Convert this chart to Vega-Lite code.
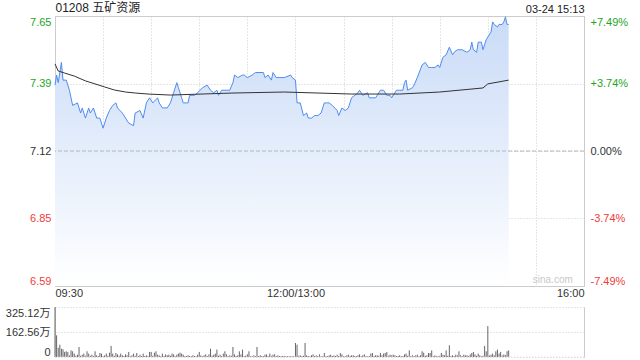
{
"$schema": "https://vega.github.io/schema/vega-lite/v6.json",
"padding": {"left": 5, "top": 0, "right": 5, "bottom": 0},
"autosize": {"type": "pad"},
"background": "white",
"config": {"font": "Liberation Sans, Noto Sans CJK SC, sans-serif", "axis": {"labelFont": "Liberation Sans, Noto Sans CJK SC, sans-serif", "labelFontSize": 11, "labelColor": "#333", "ticks": false, "domain": false, "labelOverlap": false}},
"datasets": {
"price": [{"m":0,"p":7.38},{"m":1,"p":7.42},{"m":2,"p":7.39},{"m":4,"p":7.47},{"m":5,"p":7.40},{"m":7,"p":7.40},{"m":9,"p":7.36},{"m":11,"p":7.30},{"m":14,"p":7.31},{"m":16,"p":7.27},{"m":17,"p":7.29},{"m":19,"p":7.25},{"m":21,"p":7.29},{"m":22,"p":7.27},{"m":24,"p":7.29},{"m":26,"p":7.25},{"m":28,"p":7.25},{"m":30,"p":7.21},{"m":32,"p":7.25},{"m":34,"p":7.28},{"m":36,"p":7.30},{"m":38,"p":7.31},{"m":39,"p":7.29},{"m":42,"p":7.27},{"m":44,"p":7.25},{"m":46,"p":7.23},{"m":49,"p":7.22},{"m":50,"p":7.27},{"m":53,"p":7.28},{"m":55,"p":7.25},{"m":57,"p":7.31},{"m":59,"p":7.33},{"m":61,"p":7.31},{"m":64,"p":7.33},{"m":65,"p":7.31},{"m":67,"p":7.29},{"m":70,"p":7.29},{"m":72,"p":7.31},{"m":74,"p":7.35},{"m":76,"p":7.39},{"m":77,"p":7.37},{"m":79,"p":7.33},{"m":80,"p":7.31},{"m":82,"p":7.31},{"m":83,"p":7.31},{"m":84,"p":7.34},{"m":87,"p":7.34},{"m":89,"p":7.35},{"m":92,"p":7.37},{"m":95,"p":7.38},{"m":97,"p":7.36},{"m":99,"p":7.35},{"m":101,"p":7.36},{"m":102,"p":7.34},{"m":104,"p":7.36},{"m":106,"p":7.36},{"m":109,"p":7.36},{"m":111,"p":7.39},{"m":112,"p":7.42},{"m":114,"p":7.41},{"m":117,"p":7.42},{"m":118,"p":7.42},{"m":120,"p":7.41},{"m":123,"p":7.42},{"m":125,"p":7.43},{"m":130,"p":7.43},{"m":131,"p":7.41},{"m":133,"p":7.42},{"m":135,"p":7.40},{"m":136,"p":7.43},{"m":138,"p":7.41},{"m":143,"p":7.41},{"m":147,"p":7.42},{"m":148,"p":7.41},{"m":150,"p":7.40},{"m":151,"p":7.31},{"m":153,"p":7.31},{"m":155,"p":7.26},{"m":157,"p":7.27},{"m":158,"p":7.25},{"m":160,"p":7.25},{"m":162,"p":7.26},{"m":164,"p":7.26},{"m":166,"p":7.27},{"m":168,"p":7.31},{"m":170,"p":7.31},{"m":171,"p":7.31},{"m":173,"p":7.30},{"m":176,"p":7.28},{"m":177,"p":7.26},{"m":179,"p":7.29},{"m":181,"p":7.28},{"m":183,"p":7.29},{"m":185,"p":7.33},{"m":187,"p":7.34},{"m":189,"p":7.35},{"m":190,"p":7.36},{"m":192,"p":7.34},{"m":195,"p":7.35},{"m":196,"p":7.33},{"m":200,"p":7.33},{"m":201,"p":7.34},{"m":203,"p":7.36},{"m":205,"p":7.36},{"m":207,"p":7.34},{"m":209,"p":7.34},{"m":210,"p":7.33},{"m":213,"p":7.36},{"m":214,"p":7.36},{"m":215,"p":7.36},{"m":217,"p":7.36},{"m":218,"p":7.39},{"m":219,"p":7.40},{"m":220,"p":7.36},{"m":223,"p":7.37},{"m":224,"p":7.38},{"m":226,"p":7.41},{"m":229,"p":7.46},{"m":231,"p":7.47},{"m":233,"p":7.45},{"m":235,"p":7.45},{"m":237,"p":7.45},{"m":239,"p":7.46},{"m":240,"p":7.45},{"m":242,"p":7.49},{"m":244,"p":7.50},{"m":246,"p":7.53},{"m":248,"p":7.50},{"m":249,"p":7.51},{"m":251,"p":7.52},{"m":254,"p":7.52},{"m":257,"p":7.51},{"m":259,"p":7.52},{"m":260,"p":7.55},{"m":261,"p":7.52},{"m":263,"p":7.51},{"m":264,"p":7.55},{"m":266,"p":7.55},{"m":267,"p":7.52},{"m":269,"p":7.56},{"m":270,"p":7.57},{"m":272,"p":7.59},{"m":273,"p":7.63},{"m":274,"p":7.62},{"m":276,"p":7.61},{"m":277,"p":7.62},{"m":279,"p":7.62},{"m":280,"p":7.63},{"m":281,"p":7.65},{"m":282,"p":7.62},{"m":283,"p":7.62}],
"avg": [{"m":0,"a":7.464},{"m":2,"a":7.436},{"m":6,"a":7.428},{"m":12,"a":7.416},{"m":19,"a":7.397},{"m":25,"a":7.385},{"m":31,"a":7.373},{"m":37,"a":7.361},{"m":44,"a":7.353},{"m":50,"a":7.349},{"m":58,"a":7.345},{"m":72,"a":7.341},{"m":111,"a":7.349},{"m":143,"a":7.353},{"m":164,"a":7.349},{"m":185,"a":7.345},{"m":215,"a":7.345},{"m":240,"a":7.353},{"m":267,"a":7.369},{"m":270,"a":7.385},{"m":283,"a":7.400}],
"vol": [{"m":0,"v":325},{"m":1,"v":141},{"m":2,"v":60},{"m":3,"v":80},{"m":4,"v":54},{"m":5,"v":50},{"m":6,"v":33},{"m":7,"v":37},{"m":8,"v":33},{"m":9,"v":10},{"m":10,"v":43},{"m":11,"v":37},{"m":12,"v":22},{"m":13,"v":8},{"m":14,"v":15},{"m":15,"v":65},{"m":16,"v":8},{"m":17,"v":15},{"m":18,"v":22},{"m":19,"v":8},{"m":20,"v":37},{"m":21,"v":22},{"m":22,"v":8},{"m":23,"v":15},{"m":24,"v":6},{"m":25,"v":37},{"m":26,"v":11},{"m":27,"v":6},{"m":28,"v":26},{"m":29,"v":22},{"m":30,"v":6},{"m":31,"v":11},{"m":32,"v":22},{"m":33,"v":8},{"m":34,"v":28},{"m":35,"v":72},{"m":36,"v":22},{"m":37,"v":8},{"m":38,"v":26},{"m":39,"v":17},{"m":40,"v":8},{"m":41,"v":22},{"m":42,"v":11},{"m":43,"v":6},{"m":44,"v":17},{"m":45,"v":11},{"m":46,"v":33},{"m":47,"v":6},{"m":48,"v":11},{"m":49,"v":22},{"m":50,"v":8},{"m":51,"v":26},{"m":52,"v":6},{"m":53,"v":15},{"m":54,"v":6},{"m":55,"v":22},{"m":56,"v":6},{"m":57,"v":11},{"m":58,"v":6},{"m":59,"v":33},{"m":60,"v":33},{"m":61,"v":8},{"m":62,"v":28},{"m":63,"v":37},{"m":64,"v":15},{"m":65,"v":11},{"m":66,"v":6},{"m":67,"v":22},{"m":68,"v":6},{"m":69,"v":17},{"m":70,"v":11},{"m":71,"v":15},{"m":72,"v":8},{"m":73,"v":22},{"m":74,"v":17},{"m":75,"v":6},{"m":76,"v":15},{"m":77,"v":22},{"m":78,"v":28},{"m":79,"v":22},{"m":80,"v":15},{"m":81,"v":6},{"m":82,"v":6},{"m":83,"v":11},{"m":84,"v":6},{"m":85,"v":5},{"m":86,"v":11},{"m":87,"v":6},{"m":88,"v":5},{"m":89,"v":15},{"m":90,"v":33},{"m":91,"v":11},{"m":92,"v":6},{"m":93,"v":11},{"m":94,"v":17},{"m":95,"v":6},{"m":96,"v":17},{"m":97,"v":54},{"m":98,"v":8},{"m":99,"v":15},{"m":100,"v":22},{"m":101,"v":48},{"m":102,"v":8},{"m":103,"v":15},{"m":104,"v":6},{"m":105,"v":22},{"m":106,"v":37},{"m":107,"v":17},{"m":108,"v":6},{"m":109,"v":11},{"m":110,"v":8},{"m":111,"v":65},{"m":112,"v":17},{"m":113,"v":6},{"m":114,"v":11},{"m":115,"v":37},{"m":116,"v":17},{"m":117,"v":48},{"m":118,"v":6},{"m":119,"v":8},{"m":120,"v":17},{"m":121,"v":37},{"m":122,"v":6},{"m":123,"v":5},{"m":124,"v":11},{"m":125,"v":6},{"m":126,"v":65},{"m":127,"v":6},{"m":128,"v":11},{"m":129,"v":6},{"m":130,"v":5},{"m":131,"v":15},{"m":132,"v":17},{"m":133,"v":6},{"m":134,"v":22},{"m":135,"v":8},{"m":136,"v":15},{"m":137,"v":17},{"m":138,"v":6},{"m":139,"v":11},{"m":140,"v":6},{"m":141,"v":5},{"m":142,"v":6},{"m":143,"v":6},{"m":144,"v":5},{"m":145,"v":5},{"m":146,"v":5},{"m":147,"v":5},{"m":148,"v":5},{"m":149,"v":5},{"m":150,"v":91},{"m":151,"v":80},{"m":152,"v":8},{"m":153,"v":11},{"m":154,"v":6},{"m":155,"v":8},{"m":156,"v":91},{"m":157,"v":11},{"m":158,"v":6},{"m":159,"v":5},{"m":160,"v":11},{"m":161,"v":17},{"m":162,"v":6},{"m":163,"v":11},{"m":164,"v":6},{"m":165,"v":17},{"m":166,"v":5},{"m":167,"v":6},{"m":168,"v":26},{"m":169,"v":6},{"m":170,"v":5},{"m":171,"v":11},{"m":172,"v":15},{"m":173,"v":6},{"m":174,"v":11},{"m":175,"v":6},{"m":176,"v":15},{"m":177,"v":6},{"m":178,"v":26},{"m":179,"v":17},{"m":180,"v":6},{"m":181,"v":5},{"m":182,"v":11},{"m":183,"v":15},{"m":184,"v":6},{"m":185,"v":11},{"m":186,"v":11},{"m":187,"v":6},{"m":188,"v":5},{"m":189,"v":11},{"m":190,"v":17},{"m":191,"v":6},{"m":192,"v":11},{"m":193,"v":17},{"m":194,"v":6},{"m":195,"v":5},{"m":196,"v":6},{"m":197,"v":22},{"m":198,"v":26},{"m":199,"v":6},{"m":200,"v":11},{"m":201,"v":11},{"m":202,"v":8},{"m":203,"v":26},{"m":204,"v":11},{"m":205,"v":22},{"m":206,"v":26},{"m":207,"v":33},{"m":208,"v":8},{"m":209,"v":15},{"m":210,"v":11},{"m":211,"v":15},{"m":212,"v":11},{"m":213,"v":6},{"m":214,"v":6},{"m":215,"v":11},{"m":216,"v":5},{"m":217,"v":6},{"m":218,"v":17},{"m":219,"v":22},{"m":220,"v":8},{"m":221,"v":43},{"m":222,"v":6},{"m":223,"v":11},{"m":224,"v":6},{"m":225,"v":11},{"m":226,"v":15},{"m":227,"v":6},{"m":228,"v":11},{"m":229,"v":37},{"m":230,"v":28},{"m":231,"v":8},{"m":232,"v":11},{"m":233,"v":26},{"m":234,"v":26},{"m":235,"v":43},{"m":236,"v":6},{"m":237,"v":11},{"m":238,"v":6},{"m":239,"v":6},{"m":240,"v":8},{"m":241,"v":26},{"m":242,"v":15},{"m":243,"v":11},{"m":244,"v":43},{"m":245,"v":8},{"m":246,"v":76},{"m":247,"v":6},{"m":248,"v":11},{"m":249,"v":6},{"m":250,"v":15},{"m":251,"v":11},{"m":252,"v":37},{"m":253,"v":11},{"m":254,"v":6},{"m":255,"v":15},{"m":256,"v":11},{"m":257,"v":11},{"m":258,"v":6},{"m":259,"v":17},{"m":260,"v":26},{"m":261,"v":33},{"m":262,"v":17},{"m":263,"v":8},{"m":264,"v":22},{"m":265,"v":11},{"m":266,"v":6},{"m":267,"v":8},{"m":268,"v":72},{"m":269,"v":37},{"m":270,"v":201},{"m":271,"v":10},{"m":272,"v":15},{"m":273,"v":22},{"m":274,"v":10},{"m":275,"v":37},{"m":276,"v":48},{"m":277,"v":22},{"m":278,"v":33},{"m":279,"v":10},{"m":280,"v":17},{"m":281,"v":12},{"m":282,"v":37},{"m":283,"v":43}]
},
"spacing": 21,
"bounds": "flush",
"resolve": {"scale": {"x": "independent", "y": "independent"}},
"vconcat": [
{
 "width": 529, "height": 270,
 "view": {"stroke": "#cccccc"},
 "layer": [
  {"data": {"name": "price"},
   "mark": {"type": "area", "fill": {"gradient": "linear", "x1": 0, "y1": 0, "x2": 0, "y2": 1, "stops": [{"offset": 0, "color": "#c9dbf7"}, {"offset": 1, "color": "#ffffff"}]}},
   "encoding": {
     "x": {"field": "m", "type": "quantitative", "title": null, "scale": {"domain": [0, 330], "nice": false, "zero": false},
       "axis": {"values": [0,30,60,90,120,150,180,210,240,270,300,330], "labelExpr": "datum.value == 0 ? '09:30' : (datum.value == 150 ? '12:00/13:00' : (datum.value == 330 ? '16:00' : ''))", "labelFlush": true, "labelPadding": 1, "grid": true, "gridColor": "#cccccc", "gridDash": [1, 2]}},
     "y": {"field": "p", "type": "quantitative", "title": null, "scale": {"domain": [6.5867, 7.6533], "nice": false, "zero": false},
       "axis": {"values": [6.5867, 6.8534, 7.12, 7.3866, 7.6533], "format": ".2f", "labelFlush": true, "labelPadding": 4, "labelColor": {"expr": "datum.value > 7.121 ? '#1ea51e' : (datum.value < 7.119 ? '#f03c3c' : '#333333')"}, "grid": true, "gridColor": "#cccccc", "gridDash": [1, 2]}},
     "y2": {"datum": 6.5867}
   }},
  {"data": {"name": "price"},
   "mark": {"type": "line", "color": "#4f8cf0", "strokeWidth": 1},
   "encoding": {"x": {"field": "m", "type": "quantitative", "axis": null}, "y": {"field": "p", "type": "quantitative", "axis": null}}},
  {"data": {"name": "avg"},
   "mark": {"type": "line", "color": "#333333", "strokeWidth": 1},
   "encoding": {"x": {"field": "m", "type": "quantitative", "axis": null}, "y": {"field": "a", "type": "quantitative", "axis": null}}},
  {"data": {"values": [{}]},
   "mark": {"type": "rule", "color": "#b5b5b5", "strokeDash": [4, 2]},
   "encoding": {"y": {"datum": 7.12, "type": "quantitative",
     "axis": {"orient": "right", "values": [6.5867, 6.8534, 7.12, 7.3866, 7.6533], "labelExpr": "datum.value > 7.121 ? '+' + format((datum.value / 7.12 - 1) * 100, '.2f') + '%' : (datum.value < 7.119 ? '-' + format((1 - datum.value / 7.12) * 100, '.2f') + '%' : '0.00%')", "labelFlush": true, "labelPadding": 6, "labelColor": {"expr": "datum.value > 7.121 ? '#1ea51e' : (datum.value < 7.119 ? '#f03c3c' : '#333333')"}, "grid": false}}}},
  {"data": {"values": [{"label": "sina.com"}]},
   "mark": {"type": "text", "align": "right", "baseline": "bottom", "dy": -1, "fontSize": 10, "color": "#c8c8c8"},
   "encoding": {
     "text": {"field": "label"},
     "x": {"datum": 323, "type": "quantitative",
       "axis": {"orient": "top", "values": [0, 330], "labelExpr": "datum.value == 0 ? '01208 五矿资源' : '03-24 15:13'", "labelFlush": true, "labelPadding": 2, "grid": false, "labelColor": "#222222", "labelFontSize": {"condition": {"test": "datum.value == 0", "value": 12}, "value": 11}}},
     "y": {"datum": 6.5867, "type": "quantitative", "axis": null}
   }}
 ],
 "resolve": {"axis": {"x": "independent", "y": "independent"}}
},
{
 "width": 529, "height": 50,
 "view": {"stroke": null},
 "layer": [
  {"data": {"name": "vol"},
   "mark": {"type": "rule", "color": "#666666", "strokeWidth": 1},
   "encoding": {
     "x": {"field": "m", "type": "quantitative", "scale": {"domain": [0, 330], "nice": false, "zero": false}, "axis": null},
     "y": {"field": "v", "type": "quantitative", "title": null, "scale": {"domain": [0, 325.12], "nice": false},
       "axis": {"values": [0, 162.56, 325.12], "labelExpr": "datum.value == 0 ? '0' : format(datum.value, '.2f') + '万'", "labelFlush": true, "labelPadding": 5, "domain": true, "domainColor": "#cccccc", "grid": true, "gridColor": "#cccccc", "gridDash": [1, 2]}},
     "y2": {"datum": 0}
   }},
  {"data": {"values": [{}]},
   "mark": {"type": "rule", "color": "#dddddd", "strokeDash": [1, 2]},
   "encoding": {"y": {"datum": 0, "type": "quantitative", "axis": {"orient": "right", "labels": false, "domain": true, "domainColor": "#cccccc", "grid": false}}}}
 ],
 "resolve": {"axis": {"y": "independent"}}
}
]
}
